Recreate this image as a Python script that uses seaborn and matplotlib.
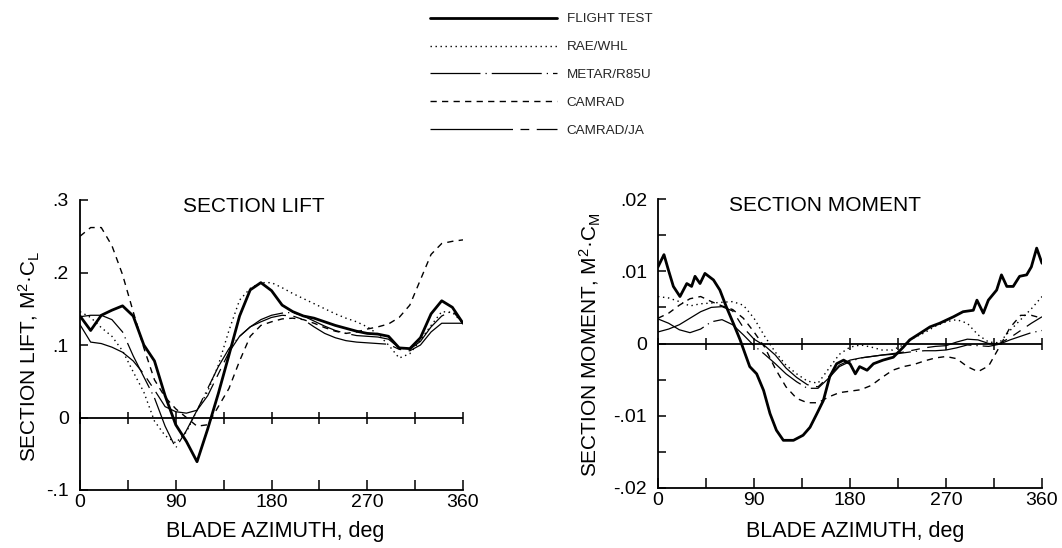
import numpy as np
import pandas as pd
import matplotlib
matplotlib.use("Agg")
import matplotlib.pyplot as plt
from matplotlib.lines import Line2D
import seaborn as sns

# ---------------- data ----------------
azim = list(range(0, 361, 10))

lift_flight = [.140, .120, .141, .148, .154, .140, .100, .078, .030, -.010,
               -.033, -.061, -.016, .033, .086, .140, .176, .186, .175, .155,
               .146, .140, .137, .132, .127, .123, .119, .116, .115, .112,
               .096, .095, .110, .143, .161, .152, .130]
lift_rae = [.146, .138, .124, .112, .092, .063, .035, -.005, -.025, -.035,
            -.020, .010, .036, .072, .120, .162, .178, .186, .186, .179,
            .171, .164, .157, .150, .143, .137, .132, .125, .115, .100,
            .082, .088, .107, .127, .146, .145, .130]
lift_metar = [.139, .141, .141, .135, .118, .085, .056, .027, -.012, -.042,
              -.018, .010, .040, .070, .095, .112, .125, .135, .141, .144,
              .145, .140, .133, .126, .120, .116, .113, .112, .111, .108,
              .096, .094, .105, .125, .140, .147, .130]
lift_camrad = [.250, .262, .262, .237, .197, .146, .096, .052, .028, .012,
               .000, -.012, -.010, .015, .040, .078, .112, .127, .132, .136,
               .137, .135, .130, .124, .119, .116, .118, .122, .125, .129,
               .138, .155, .190, .225, .240, .243, .245]
lift_camradja = [.128, .104, .102, .097, .090, .078, .060, .038, .015, .008,
                 .006, .010, .030, .060, .090, .112, .125, .132, .138, .141,
                 .140, .135, .125, .116, .110, .106, .104, .103, .102, .101,
                 .094, .092, .100, .118, .130, .130, .130]

mom_flight_az = [0, 5.6, 9.7, 14.4, 20.6, 27, 31.5, 34.7, 39.4, 44, 52, 58, 64,
                 70.6, 77, 81.6, 86, 92.5, 99, 105, 111, 117.5, 127, 136, 142.5,
                 149, 155, 161, 167.5, 174, 180, 185, 189, 196, 202, 211, 220.6,
                 230, 236, 245.6, 255, 264, 277, 286, 295.6, 299, 305, 309.7,
                 317.5, 322, 327, 333, 339, 345.6, 350, 355, 360]
mom_flight = [.0106, .0123, .0102, .0079, .0065, .0083, .0079, .0093, .0083,
              .0097, .0088, .0074, .0051, .0028, .0005, -.0014, -.0032, -.0042,
              -.0065, -.0097, -.0120, -.0134, -.0134, -.0127, -.0116, -.0097,
              -.0079, -.0046, -.0028, -.0023, -.0028, -.0042, -.0032, -.0037,
              -.0028, -.0023, -.0019, -.0005, .0005, .0014, .0023, .0028,
              .0037, .0044, .0046, .0060, .0042, .0060, .0074, .0095, .0079,
              .0079, .0093, .0095, .0106, .0132, .0111]
mom_rae = [.0065, .0063, .0058, .0052, .0055, .0056, .0057, .0058, .0053, .0035,
           .0010, -.0012, -.0030, -.0042, -.0052, -.0055, -.0035, -.0015, -.0005,
           -.0002, -.0005, -.0009, -.0009, -.0002, .0008, .0015, .0024, .0030,
           .0033, .0028, .0012, .0002, .0001, .0018, .0033, .0048, .0065]
mom_metar = [.0034, .0028, .0019, .0015, .0020, .0030, .0033, .0026, .0012,
             -.0003, -.0015, -.0028, -.0042, -.0053, -.0062, -.0062, -.0048,
             -.0032, -.0025, -.0020, -.0018, -.0016, -.0015, -.0013, -.0011,
             -.0010, -.0010, -.0009, -.0006, -.0002, -.0003, -.0004, -.0001,
             .0005, .0010, .0015, .0018]
mom_camrad = [.0035, .0042, .0053, .0062, .0065, .0058, .0052, .0047, .0035,
              .0016, -.0005, -.0035, -.0060, -.0076, -.0082, -.0082, -.0074,
              -.0068, -.0066, -.0064, -.0058, -.0047, -.0037, -.0032, -.0029,
              -.0024, -.0020, -.0018, -.0021, -.0032, -.0039, -.0031, -.0005,
              .0022, .0039, .0039, .0035]
mom_camradja = [.0016, .0020, .0026, .0035, .0044, .0050, .0051, .0045, .0022,
                .0006, -.0003, -.0016, -.0034, -.0047, -.0057, -.0060, -.0046,
                -.0030, -.0023, -.0020, -.0018, -.0016, -.0014, -.0012, -.0009,
                -.0006, -.0004, -.0003, .0002, .0006, .0005, .0000, .0000,
                .0008, .0018, .0028, .0037]

labels = ["FLIGHT TEST", "RAE/WHL", "METAR/R85U", "CAMRAD", "CAMRAD/JA"]
x_ticks = [0, 90, 180, 270, 360]
lift_ticks = [-.1, 0, .1, .2, .3]
lift_ticklabels = ["-.1", "0", ".1", ".2", ".3"]
mom_ticks = [-.02, -.01, 0, .01, .02]
mom_ticklabels = ["-.02", "-.01", "0", ".01", ".02"]

# ---------------- style ----------------
sns.set_theme(style="white")
plt.rcParams["font.family"] = ["Liberation Sans", "DejaVu Sans"]
plt.rcParams["mathtext.default"] = "regular"
plt.rcParams["axes.linewidth"] = 1.3

styles = {
    "FLIGHT TEST": dict(lw=2.0, ls="-"),
    "RAE/WHL": dict(lw=1.0, ls=(0, (1, 2.6))),
    "METAR/R85U": dict(lw=0.9, ls=(0, (40, 4, 1, 4))),
    "CAMRAD": dict(lw=1.0, ls=(0, (4.5, 3.8))),
    "CAMRAD/JA": dict(lw=0.9, ls=(0, (66, 6, 7, 6))),
}

fig = plt.figure(figsize=(10.62, 5.48), dpi=100)
axL = fig.add_axes([80/1062, 1-490/548, 383/1062, 290/548])
axR = fig.add_axes([658/1062, 1-488/548, 384/1062, 289/548])

lift_series = [(azim, lift_flight), (azim, lift_rae), (azim, lift_metar),
               (azim, lift_camrad), (azim, lift_camradja)]
mom_series = [(mom_flight_az, mom_flight), (azim, mom_rae), (azim, mom_metar),
              (azim, mom_camrad), (azim, mom_camradja)]

for ax, series in ((axL, lift_series), (axR, mom_series)):
    for lab, (xs, ys) in zip(labels, series):
        df = pd.DataFrame({"az": xs, "v": ys})
        st = styles[lab]
        sns.lineplot(data=df, x="az", y="v", ax=ax, color="black",
                     linewidth=st["lw"], linestyle=st["ls"], estimator=None,
                     sort=False)

def style_axes(ax, yticks, yticklabels, ylim, yminor, title, tx, ylabel, ylx, yly, xlx, xly):
    ax.set_xlim(0, 360)
    ax.set_ylim(*ylim)
    ax.set_xticks(x_ticks)
    ax.set_xticklabels([str(t) for t in x_ticks])
    ax.set_xticks([45, 135, 225, 315], minor=True)
    ax.set_yticks(yticks)
    ax.set_yticklabels(yticklabels)
    if yminor:
        ax.set_yticks(yminor, minor=True)
    for s in ("top", "right"):
        ax.spines[s].set_visible(False)
    for s in ("left", "bottom"):
        ax.spines[s].set_color("black")
    ax.tick_params(axis="x", which="both", direction="in", length=7, width=1.1,
                   pad=3, labelsize=14, colors="black", bottom=True)
    ax.tick_params(axis="y", which="both", direction="in", length=6, width=1.1,
                   pad=8, labelsize=14, colors="black", left=True)
    ax.axhline(0, color="black", lw=1.3, zorder=1)
    zt = [0, 45, 90, 135, 180, 225, 270, 315, 360]
    ax.plot(zt, [0]*len(zt), ls="none", marker="|", ms=9, mew=1.1,
            color="black", clip_on=False)
    ax.text(tx, 0.978, title, transform=ax.transAxes, ha="center", va="center",
            fontsize=15, color="black")
    ax.set_ylabel(ylabel, fontsize=15, color="black")
    ax.yaxis.set_label_coords(ylx, yly)
    ax.set_xlabel("BLADE AZIMUTH, deg", fontsize=15.5, color="black")
    ax.xaxis.set_label_coords(xlx, xly)
    ax.grid(False)

style_axes(axL, lift_ticks, lift_ticklabels, (-.1, .3), None,
           "SECTION LIFT", 0.455, "SECTION LIFT, M$^{2}$·C$_{L}$",
           -0.10, 0.46, 0.51, -0.108)
style_axes(axR, mom_ticks, mom_ticklabels, (-.02, .02),
           [-.015, -.005, .005, .015],
           "SECTION MOMENT", 0.436, "SECTION MOMENT, M$^{2}$·C$_{M}$",
           -0.142, 0.495, 0.513, -0.113)

handles = [Line2D([], [], color="black", linewidth=styles[l]["lw"],
                  linestyle=styles[l]["ls"]) for l in labels]
fig.legend(handles, labels, loc="upper left",
           bbox_to_anchor=(430/1062, 1-13/548), frameon=False,
           fontsize=9.7, handlelength=9.4, handletextpad=0.75,
           labelspacing=1.14, borderpad=0, borderaxespad=0)

fig.savefig("out.png", dpi=100, facecolor="white")
